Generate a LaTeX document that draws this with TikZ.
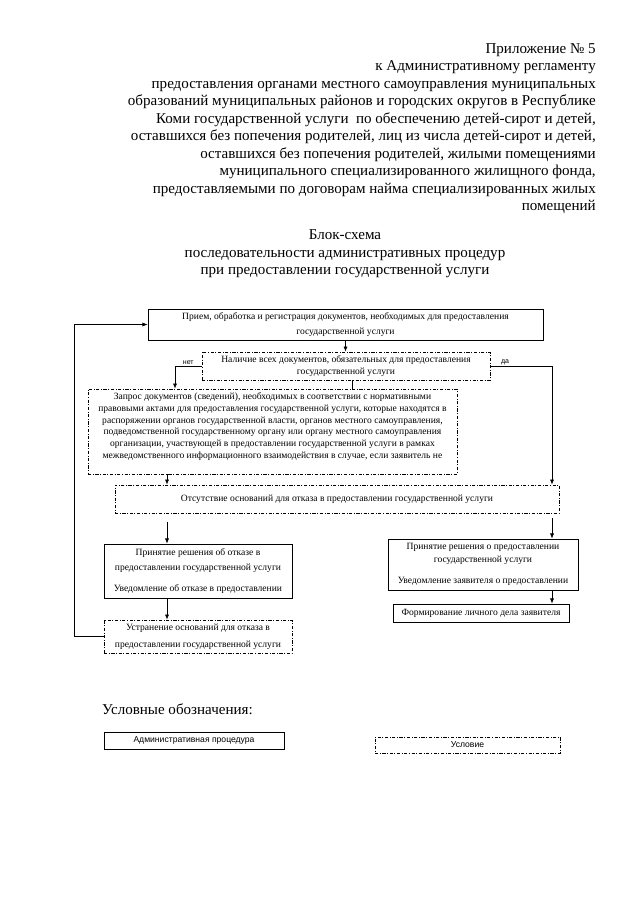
\documentclass[tikz,border=0pt]{standalone}
\usepackage{fontspec}
\setmainfont{Liberation Serif}
\setsansfont{Liberation Sans}
\usetikzlibrary{arrows.meta, positioning}
\newcommand{\PX}{0.93pt}
\tikzset{
  proc/.style={rectangle, draw=black, line width=0.7pt, align=center, inner sep=1pt,
    font=\fontsize{8.9}{11}\selectfont},
  cond/.style={rectangle, draw=black, line width=0.6pt,
    dash pattern=on 3pt off 1.5pt on 0.8pt off 1.5pt,
    align=center, inner sep=1pt, font=\fontsize{8.9}{11}\selectfont},
  ar/.style={-{Latex[length=4.8pt,width=3.8pt]}, line width=0.6pt},
  ln/.style={line width=0.6pt},
  lb/.style={font=\sffamily\fontsize{6.5}{7}\selectfont, inner sep=1pt},
  hdr/.style={font=\fontsize{14}{16.3}\selectfont, inner sep=0pt},
  leg/.style={font=\sffamily\fontsize{8}{9}\selectfont},
}

\begin{document}
\begin{tikzpicture}[x=\PX, y=-\PX]

\fill[white] (0,0) rectangle (640,905);
\useasboundingbox (0,0) rectangle (640,905);

% header and title
\node[hdr, anchor=north east, align=right] (HDR) at (596,43) {Приложение № 5\\
  к Административному регламенту\\
  предоставления органами местного самоуправления муниципальных\\
  образований муниципальных районов и городских округов в Республике\\
  Коми государственной услуги \ по обеспечению детей-сирот и детей,\\
  оставшихся без попечения родителей, лиц из числа детей-сирот и детей,\\
  оставшихся без попечения родителей, жилыми помещениями\\
  муниципального специализированного жилищного фонда,\\
  предоставляемыми по договорам найма специализированных жилых\\
  помещений};
\node[hdr, align=center] (TTL) at (345,254) {Блок-схема\\
  последовательности административных процедур\\
  при предоставлении государственной услуги};

% flowchart
\node[proc, minimum width=395*\PX, minimum height=31*\PX,
      font=\fontsize{8.9}{13.5}\selectfont] (PRM) at (345.5,324.5)
  {Прием, обработка и регистрация документов, необходимых для предоставления\\государственной услуги};
\node[cond, minimum width=288*\PX, minimum height=28*\PX] (NAL) at (346,366)
  {Наличие всех документов, обязательных для предоставления\\государственной услуги};
\node[cond, minimum width=369*\PX, minimum height=85*\PX,
      font=\fontsize{8.9}{10.9}\selectfont] (ZAP) at (272.5,431.5)
  {Запрос документов (сведений), необходимых в соответствии с нормативными\\
   правовыми актами для предоставления государственной услуги, которые находятся в\\
   распоряжении органов государственной власти, органов местного самоуправления,\\
   подведомственной государственному органу или органу местного самоуправления\\
   организации, участвующей в предоставлении государственной услуги в рамках\\
   межведомственного информационного взаимодействия в случае, если заявитель не\\~};
\node[cond, minimum width=444*\PX, minimum height=28*\PX] (OTS) at (337,499)
  {Отсутствие оснований для отказа в предоставлении государственной услуги};

\node[proc, minimum width=188*\PX, minimum height=54*\PX,
      font=\fontsize{8.9}{14}\selectfont] (OTK) at (198,571)
  {Принятие решения об отказе в\\предоставлении государственной услуги\\[5pt]Уведомление об отказе в предоставлении};
\node[cond, minimum width=188*\PX, minimum height=33*\PX,
      font=\fontsize{8.9}{15.5}\selectfont] (UST) at (198,636.5)
  {Устранение оснований для отказа в\\предоставлении государственной услуги};

\node[proc, minimum width=190*\PX, minimum height=51*\PX,
      font=\fontsize{8.9}{12}\selectfont] (PRD) at (483,564.5)
  {Принятие решения о предоставлении\\государственной услуги\\[8pt]Уведомление заявителя о предоставлении};
\node[proc, minimum width=176*\PX, minimum height=18*\PX] (FRM) at (481,613)
  {Формирование личного дела заявителя};

% legend
\node[hdr, anchor=west] (LGD) at (102,709) {Условные обозначения:};
\node[proc, leg, minimum width=180*\PX, minimum height=17*\PX] (LPR) at (194,740.5) {Административная процедура};
\node[cond, leg, minimum width=185*\PX, minimum height=16*\PX] (LCN) at (467.5,745) {Условие};

% connectors
\coordinate (colL) at (167,0);
\coordinate (colR) at (552,0);
\coordinate (colN) at (175,0);
\coordinate (loopX) at (74,0);

\draw[ar] (UST.west) -- (loopX |- UST.west) |- (PRM.west);
\draw[ar] (PRM.south) -- (PRM.south |- NAL.north);
\draw[ar] (NAL.west) -| node[lb, above, pos=0.25]{нет} (colN |- ZAP.north);
\draw[ar] (NAL.east) -| node[lb, above, pos=0.12]{да} (colR |- OTS.north);
\draw[ln] ([xshift=6*\PX]NAL.south) -- ([xshift=6*\PX]NAL.south |- ZAP.north);
\draw[ar] (colL |- ZAP.south) -- (colL |- OTS.north);
\draw[ar, shorten <=8.5pt] (colL |- OTS.south) -- (colL |- OTK.north);
\draw[ar, shorten <=4.5pt] (colR |- OTS.south) -- (colR |- PRD.north);
\draw[ar] (colL |- OTK.south) -- (colL |- UST.north);
\draw[ar] (colR |- PRD.south) -- (colR |- FRM.north);

\end{tikzpicture}
\end{document}
